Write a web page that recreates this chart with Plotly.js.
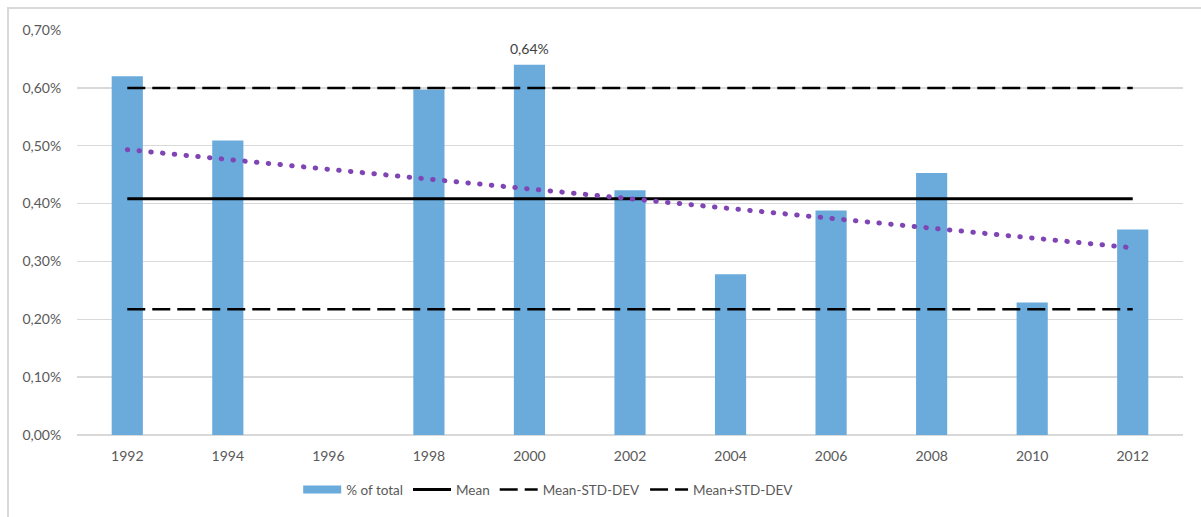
<!DOCTYPE html>
<html>
<head>
<meta charset="utf-8">
<script src="https://cdn.plot.ly/plotly-3.0.1.min.js"></script>
<style>
  html, body { margin: 0; padding: 0; background: #fff; }
  #wrap { position: relative; width: 1201px; height: 517px; overflow: hidden; }
  #chart { position: absolute; left: 0; top: 0; width: 1201px; height: 517px; }
  #frame { position: absolute; left: 7px; top: 7px; width: 1300px; height: 600px;
           border-top: 2px solid #d9d9d9; border-left: 2px solid #d9d9d9; pointer-events: none; }
</style>
</head>
<body>
<div id="wrap">
  <div id="chart"></div>
  <div id="frame"></div>
</div>
<script>
// Share of total per survey year (fractions; 1996 has no share)
const years = ['1992', '1994', '1996', '1998', '2000', '2002', '2004', '2006', '2008', '2010', '2012'];
const shareOfTotal = [0.00620, 0.00509, 0, 0.00597, 0.0064, 0.00423, 0.00278, 0.00388, 0.00453, 0.00229, 0.00355];
const labelledYear = '2000';

const barColor = '#6aabdc';
const trendColor = '#8045b5';
const textGray = '#595959';

// Summary statistics of the series
const n = shareOfTotal.length;
const mean = shareOfTotal.reduce((a, b) => a + b, 0) / n;
const std = Math.sqrt(shareOfTotal.reduce((a, v) => a + (v - mean) ** 2, 0) / (n - 1));
const meanLine = years.map(() => mean);
const lowerLine = years.map(() => mean - std);
const upperLine = years.map(() => mean + std);

// Least-squares linear trend over the year index
const idx = years.map((_, i) => i);
const xBar = idx.reduce((a, b) => a + b, 0) / n;
let sxy = 0, sxx = 0;
idx.forEach((x, i) => { sxy += (x - xBar) * (shareOfTotal[i] - mean); sxx += (x - xBar) ** 2; });
const slope = sxy / sxx;
const trendLine = idx.map(x => mean + slope * (x - xBar));

const traces = [
  {
    type: 'bar', x: years, y: shareOfTotal, name: '% of total',
    marker: { color: barColor }, showlegend: false, legendgroup: 'share',
    hoverinfo: 'x+y'
  },
  {
    // legend key for the bars, drawn as a wide band
    type: 'scatter', mode: 'lines', x: years, y: years.map(() => null),
    name: '% of total', legendgroup: 'share',
    line: { color: barColor, width: 8 }
  },
  {
    type: 'scatter', mode: 'lines', x: years, y: meanLine, name: 'Mean',
    line: { color: '#000000', width: 3 }
  },
  {
    type: 'scatter', mode: 'lines', x: years, y: lowerLine, name: 'Mean-STD-DEV',
    line: { color: '#000000', width: 2.5, dash: '18px,7px' }
  },
  {
    type: 'scatter', mode: 'lines', x: years, y: upperLine, name: 'Mean+STD-DEV',
    line: { color: '#000000', width: 2.5, dash: '18px,7px' }
  },
  {
    type: 'scatter', mode: 'lines', x: years, y: trendLine, name: 'Linear (% of total)',
    showlegend: false,
    line: { color: trendColor, width: 5, dash: '0.5px,11.3px' }
  }
];

const labelIndex = years.indexOf(labelledYear);
const labelValue = shareOfTotal[labelIndex];

const layout = {
  width: 1201, height: 517,
  margin: { l: 77, r: 18, t: 30, b: 80 },
  paper_bgcolor: '#ffffff', plot_bgcolor: '#ffffff',
  separators: ', ',
  font: { family: 'Lato, "Open Sans", sans-serif', size: 14, color: textGray },
  bargap: 0.69,
  xaxis: {
    type: 'category', categoryorder: 'array', categoryarray: years,
    range: [-0.5, years.length - 0.5],
    showgrid: false, showline: false, zeroline: false,
    ticks: 'outside', ticklen: 8, tickcolor: 'rgba(0,0,0,0)',
    tickfont: { size: 14, color: textGray }
  },
  yaxis: {
    range: [0, 0.007], dtick: 0.001, tickformat: '.2%',
    showgrid: true, gridcolor: '#d9d9d9', gridwidth: 1.5,
    zeroline: true, zerolinecolor: '#d9d9d9', zerolinewidth: 2,
    showline: false,
    ticks: 'outside', ticklen: 12, tickcolor: 'rgba(0,0,0,0)',
    tickfont: { size: 14, color: textGray }
  },
  legend: {
    orientation: 'h', x: 0.2, xanchor: 'left', y: -0.135, yanchor: 'middle',
    itemwidth: 38,
    font: { size: 13.5, color: textGray }, bgcolor: 'rgba(0,0,0,0)'
  },
  annotations: [{
    // category index of the labelled year
    x: labelIndex, y: labelValue, xref: 'x', yref: 'y',
    text: (labelValue * 100).toFixed(2).replace('.', ',') + '%',
    showarrow: false, yanchor: 'bottom', yshift: 6,
    font: { size: 14, color: '#404040' }
  }]
};

Plotly.newPlot('chart', traces, layout, { displayModeBar: false, staticPlot: true }).then(gd => {
  // round caps turn the short dashes of the trend line into dots
  const groups = gd.querySelectorAll('.scatterlayer .trace');
  const trendPath = groups[groups.length - 1].querySelector('.js-line');
  if (trendPath) trendPath.style.strokeLinecap = 'round';
});
</script>
</body>
</html>
